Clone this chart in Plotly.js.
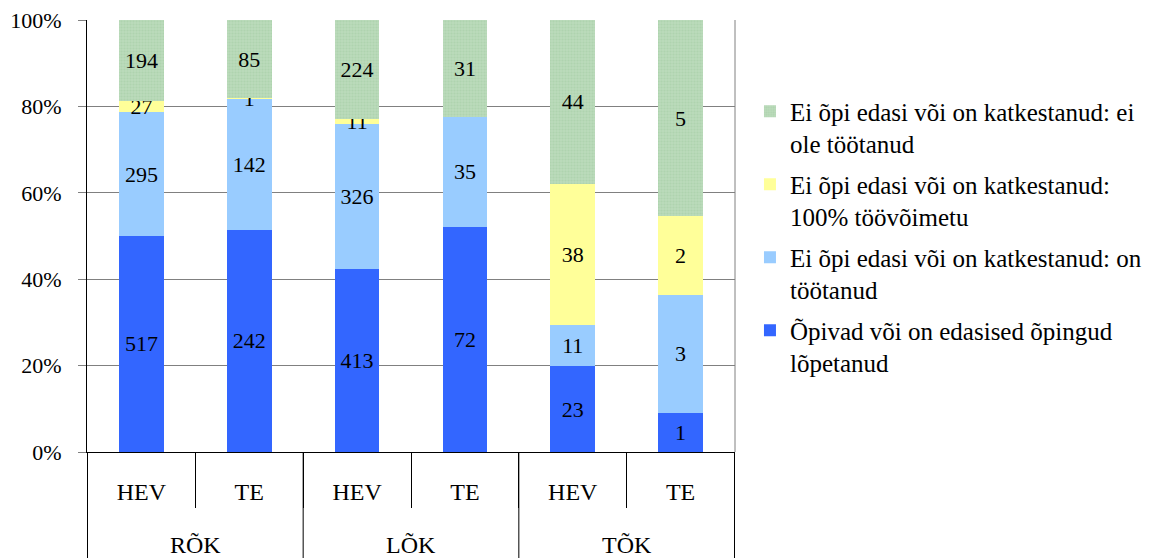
<!DOCTYPE html>
<html>
<head>
<meta charset="utf-8">
<script src="https://cdn.plot.ly/plotly-3.0.1.min.js"></script>
<style>html,body{margin:0;padding:0;background:#fff;}#chart{width:1172px;height:558px;}</style>
</head>
<body>
<div id="chart"></div>
<script>
// Categories
const groups = ['RÕK', 'RÕK', 'LÕK', 'LÕK', 'TÕK', 'TÕK'];
const subs = ['HEV', 'TE', 'HEV', 'TE', 'HEV', 'TE'];

// Series values (counts)
const opivad = [517, 242, 413, 72, 23, 1];
const tootanud = [295, 142, 326, 35, 11, 3];
const toovoimetu = [27, 1, 11, 0, 38, 2];
const eiTootanud = [194, 85, 224, 31, 44, 5];

// Series names
const names = [
  'Õpivad või on edasised õpingud<br>lõpetanud',
  'Ei õpi edasi või on katkestanud: on<br>töötanud',
  'Ei õpi edasi või on katkestanud:<br>100% töövõimetu',
  'Ei õpi edasi või on katkestanud: ei<br>ole töötanud'
];
const colors = ['#3366FF', '#99CCFF', '#FFFF99', '#BADBBA'];
const series = [opivad, tootanud, toovoimetu, eiTootanud];

const FONT = 'Liberation Serif';

// unique category keys (group + sub)
const keys = groups.map((g, i) => g + ' ' + subs[i]);

// group spans derived from the groups array
const groupNames = [];
const groupIdx = {};
groups.forEach((g, i) => {
  if (!(g in groupIdx)) { groupIdx[g] = []; groupNames.push(g); }
  groupIdx[g].push(i);
});

const traces = series.map((vals, i) => {
  const marker = {color: colors[i], line: {width: 0}};
  if (i === 3) {
    marker.pattern = {shape: '.', size: 3, solidity: 0.4, fgcolor: '#A3CCA3', fillmode: 'overlay'};
  }
  return {
    type: 'bar',
    name: names[i],
    legendgroup: 'g' + i,
    legendrank: 4 - i,
    x: keys,
    y: vals,
    text: vals.map(v => v === 0 ? '' : String(v)),
    texttemplate: '%{text}',
    textposition: 'inside',
    insidetextanchor: 'middle',
    textangle: 0,
    constraintext: 'none',
    textfont: {family: FONT, size: 22, color: '#000'},
    marker: marker,
    hoverinfo: 'skip'
  };
});

const BELOW_LABEL = -(545 - 452) / 432;
const BELOW_END = -(560 - 452) / 432;

const annotations = groupNames.map(g => {
  const idx = groupIdx[g];
  const mid = (idx[0] + idx[idx.length - 1]) / 2;
  return {
    xref: 'x', yref: 'paper', x: mid, y: BELOW_LABEL,
    text: g, showarrow: false, xanchor: 'center', yanchor: 'middle',
    font: {family: FONT, size: 24, color: '#000'}
  };
});

const boundaries = [-0.5];
groupNames.forEach(g => { const idx = groupIdx[g]; boundaries.push(idx[idx.length - 1] + 0.5); });

const shapes = boundaries.map(b => ({
  type: 'line', xref: 'x', yref: 'paper', x0: b, x1: b, y0: 0, y1: BELOW_END,
  line: {color: '#000', width: 1}
}));
shapes.push({type: 'line', xref: 'paper', yref: 'paper', x0: 1, x1: 1, y0: 0, y1: 1,
  line: {color: '#808080', width: 1}});

const layout = {
  width: 1172,
  height: 558,
  margin: {l: 87, r: 437, t: 20, b: 106, pad: 0},
  paper_bgcolor: '#fff',
  plot_bgcolor: '#fff',
  barmode: 'stack',
  barnorm: 'percent',
  bargap: 0.586,
  uniformtext: {mode: 'show', minsize: 22},
  font: {family: FONT, size: 22, color: '#000'},
  showlegend: true,
  legend: {
    x: 1.0231, xanchor: 'left',
    y: 0.8416, yanchor: 'top',
    traceorder: 'grouped',
    tracegroupgap: 5,
    valign: 'top',
    font: {family: FONT, size: 25, color: '#000'},
    bgcolor: 'rgba(0,0,0,0)',
    borderwidth: 0
  },
  xaxis: {
    type: 'category',
    categoryorder: 'array',
    categoryarray: keys,
    tickmode: 'array',
    tickvals: keys,
    ticktext: subs,
    showline: true,
    linecolor: '#000',
    linewidth: 1,
    ticks: 'outside',
    tickson: 'boundaries',
    ticklen: 55,
    tickcolor: '#000',
    ticklabelstandoff: 18,
    showgrid: false,
    tickfont: {family: FONT, size: 24, color: '#000'},
    automargin: false,
    fixedrange: true
  },
  yaxis: {
    range: [0, 100],
    dtick: 20,
    ticksuffix: '%',
    showline: true,
    linecolor: '#000',
    linewidth: 1,
    ticks: 'outside',
    ticklen: 8,
    tickcolor: '#808080',
    showgrid: true,
    gridcolor: '#808080',
    gridwidth: 1,
    zeroline: false,
    ticklabelstandoff: 12,
    tickfont: {family: FONT, size: 22, color: '#000'},
    automargin: false,
    fixedrange: true
  },
  annotations: annotations,
  shapes: shapes
};

Plotly.newPlot('chart', traces, layout, {displayModeBar: false, staticPlot: true});
</script>
</body>
</html>
